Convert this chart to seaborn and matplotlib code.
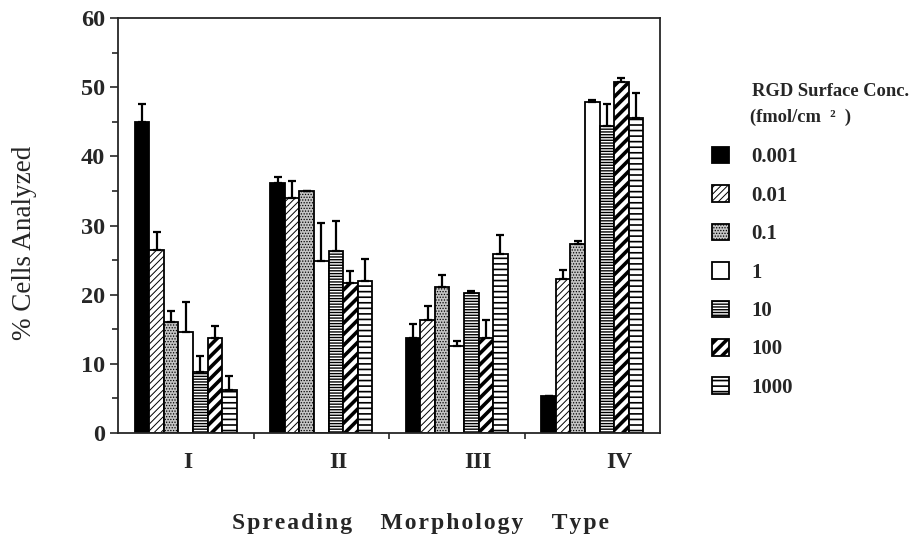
import numpy as np
import pandas as pd
import matplotlib
matplotlib.use("Agg")
import matplotlib.pyplot as plt
import matplotlib.transforms as mtransforms
import seaborn as sns

# Morphology types on the x axis and RGD surface concentrations (hue)
types = ["I", "II", "III", "IV"]
concs = ["0.001", "0.01", "0.1", "1", "10", "100", "1000"]

# % cells analyzed for types I..IV, one list per concentration
pct_0001 = [45.0, 36.2, 13.7, 5.3]
pct_001 = [26.5, 34.0, 16.4, 22.2]
pct_01 = [16.0, 35.0, 21.1, 27.3]
pct_1 = [14.6, 24.8, 12.6, 47.8]
pct_10 = [8.8, 26.3, 20.3, 44.4]
pct_100 = [13.7, 21.7, 13.7, 50.8]
pct_1000 = [6.2, 22.0, 25.9, 45.5]

# upper error bars (only drawn upwards)
err_0001 = [2.6, 0.8, 2.1, 0.0]
err_001 = [2.6, 2.4, 1.9, 1.4]
err_01 = [1.7, 0.0, 1.8, 0.5]
err_1 = [4.3, 5.5, 0.7, 0.4]
err_10 = [2.3, 4.3, 0.2, 3.1]
err_100 = [1.7, 1.7, 2.6, 0.5]
err_1000 = [2.1, 3.2, 2.7, 3.7]

all_pct = [pct_0001, pct_001, pct_01, pct_1, pct_10, pct_100, pct_1000]
all_err = [err_0001, err_001, err_01, err_1, err_10, err_100, err_1000]

rows = []
for conc, vals in zip(concs, all_pct):
    for t, v in zip(types, vals):
        rows.append({"Type": t, "Conc": conc, "Pct": v})
df = pd.DataFrame(rows)

sns.set_style("ticks")
plt.rcParams["font.family"] = ["Liberation Serif", "DejaVu Serif"]

fig = plt.figure(figsize=(9.14, 5.42), dpi=100)
ax = fig.add_axes([118 / 914, 1 - 433 / 542, (660 - 118) / 914, (433 - 18) / 542])

palette = {"0.001": "black", "0.01": "white", "0.1": "#c4c4c4", "1": "white",
           "10": "white", "100": "white", "1000": "white"}
sns.barplot(data=df, x="Type", y="Pct", hue="Conc", order=types, hue_order=concs,
            palette=palette, saturation=1, width=0.75, edgecolor="black",
            linewidth=1.3, errorbar=None, legend=False, ax=ax)

hatches = ["", "/////", "......", "", "------", "///", "---"]
hatch_lw = [1.0, 0.7, 0.6, 1.0, 1.0, 2.6, 1.2]

bar_containers = list(ax.containers)
for i, container in enumerate(bar_containers):
    for bar in container:
        bar.set_hatch(hatches[i])
        bar.set_hatch_linewidth(hatch_lw[i])
    xs = [b.get_x() + b.get_width() / 2 for b in container]
    hs = [b.get_height() for b in container]
    err = np.array(all_err[i])
    ax.errorbar(xs, hs, yerr=[np.zeros_like(err), err], fmt="none",
                ecolor="black", elinewidth=1.6, capsize=3, capthick=1.6)

ax.set_xlim(-0.5, 3.5)
ax.set_ylim(0, 60)
ax.set_yticks(np.arange(0, 61, 10))
ax.set_yticks(np.arange(5, 60, 10), minor=True)
ax.set_xticks([0.5, 1.5, 2.5], minor=True)
ax.tick_params(axis="x", which="major", length=0, pad=14, labelsize=17)
ax.tick_params(axis="x", which="minor", length=4, width=1.2, direction="out")
ax.tick_params(axis="y", which="major", length=6, width=1.2, labelsize=17.5)
ax.tick_params(axis="y", which="minor", length=4, width=1.2)
for lab in ax.get_xticklabels() + ax.get_yticklabels():
    lab.set_fontweight("bold")
# the group labels sit a little right of the group centres in the original
for lab, dx in zip(ax.get_xticklabels(), [2, 17, 21, 27]):
    lab.set_transform(lab.get_transform() + mtransforms.ScaledTranslation(dx / 100, 0, fig.dpi_scale_trans))
for s in ax.spines.values():
    s.set_linewidth(1.3)
    s.set_visible(True)

gap = "\u2003\u2009"
xlab = gap.join("\u200a".join(w) for w in ["Spreading", "Morphology", "Type"])
ax.set_xlabel(xlab, fontsize=17, fontweight="bold")
ax.xaxis.set_label_coords((421 - 118) / 542, (433 - 513) / 415)
ax.set_ylabel("% Cells Analyzed", fontsize=19.5)
ax.yaxis.set_label_coords((37 - 118) / 542, (433 - 243) / 415)

fig.text(752 / 914, 1 - 92 / 542, "RGD Surface Conc.", fontsize=13.3,
         fontweight="bold", va="center")
fig.text(750 / 914, 1 - 117 / 542, "(fmol/cm  \u00b2  )", fontsize=13.3,
         fontweight="bold", va="center")

leg = fig.legend(bar_containers, concs, loc="upper left",
                 bbox_to_anchor=(693 / 914, 1 - 128 / 542), frameon=False,
                 prop={"weight": "bold", "size": 15}, handlelength=0.85,
                 handleheight=0.85, labelspacing=0.86, handletextpad=1.05)
for h, lw in zip(leg.legend_handles, hatch_lw):
    h.set_hatch_linewidth(lw)

plt.savefig("out.png", dpi=100)
